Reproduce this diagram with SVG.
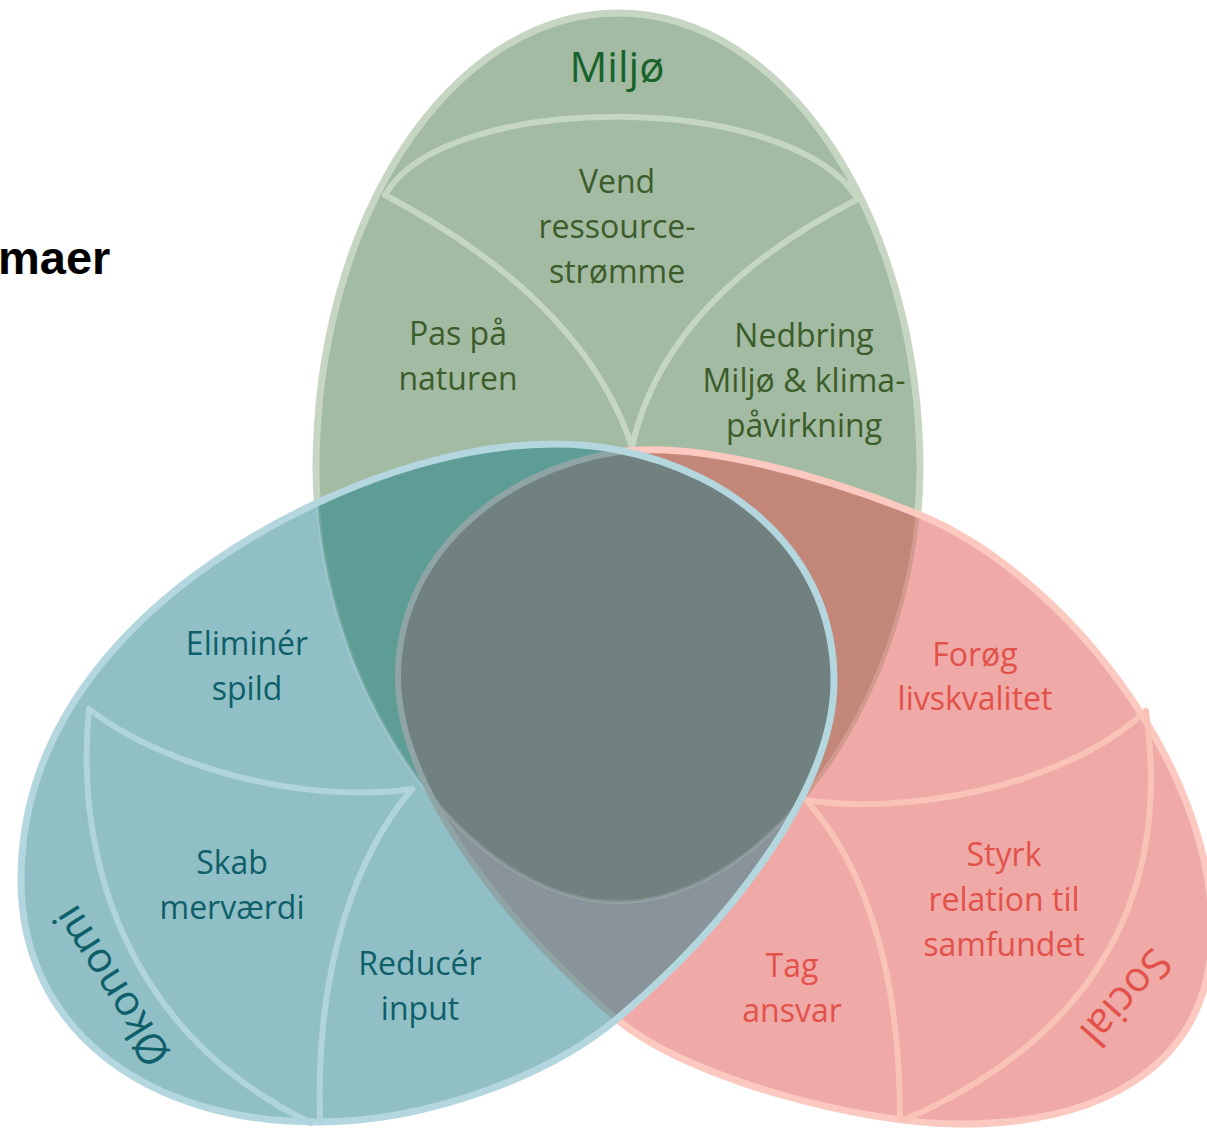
<svg xmlns="http://www.w3.org/2000/svg" width="1207" height="1128" viewBox="0 0 1207 1128">
<style>
.lbl{font-family:'Open Sans','Noto Sans',sans-serif;font-size:32px;text-anchor:middle}
.ttl{font-family:'Open Sans','Noto Sans',sans-serif;font-size:42px;text-anchor:middle}
.g{fill:#3c5d2b}
.b{fill:#0e5f6a}
.r{fill:#e2514a}
.arc{fill:none;stroke-width:6;stroke-linecap:round;stroke-linejoin:round}
</style>
<defs>
<path id="gE" d="M618,13 C451,13 316,218 316,470 C318,690 465,902 618,902 C771,902 918,690 920,470 C920,218 785,13 618,13 Z"/>
<path id="rE" d="M398,677 C398,556 500,470 618,452 C697,440 827,477 920,515 C1059,572 1212,760 1212,930 C1212,1060 1110,1124 960,1124 C860,1124 687,1078 618,1020 C512,930 398,790 398,677 Z"/>
<path id="bE" d="M21,880 C21,690 183,565 319,502 C410,460 520,431 618,450 C736,473 834,556 834,681 C834,791 725,928 618,1018 C549,1076 427,1122 317,1122 C147,1122 21,1030 21,880 Z"/>
<clipPath id="cG"><use href="#gE"/></clipPath>
<clipPath id="cR"><use href="#rE"/></clipPath>
<clipPath id="cB"><use href="#bE"/></clipPath>
</defs>
<rect width="1207" height="1128" fill="#ffffff"/>
<text x="-2" y="274" font-family="'Liberation Sans',Arial,sans-serif" font-weight="bold" font-size="47" fill="#000">maer</text>

<g id="miljo">
<use href="#gE" fill="#a2bba2" stroke="#c6d6c3" stroke-width="7"/>
<g class="arc" stroke="#c5d6c2">
<path d="M385,195 C445,90 790,90 858,199"/>
<path d="M385,195 C470,240 590,320 632,447"/>
<path d="M858,199 C770,244 660,320 632,447"/>
</g>
<text class="ttl" x="617" y="82" fill="#18622c">Miljø</text>
<text class="lbl g" x="617" y="193">Vend</text>
<text class="lbl g" x="617" y="238">ressource-</text>
<text class="lbl g" x="617" y="283">strømme</text>
<text class="lbl g" x="458" y="345">Pas på</text>
<text class="lbl g" x="458" y="390">naturen</text>
<text class="lbl g" x="804" y="347">Nedbring</text>
<text class="lbl g" x="804" y="392">Miljø &amp; klima-</text>
<text class="lbl g" x="804" y="437">påvirkning</text>
</g>

<g id="social">
<use href="#rE" fill="#efa9a6"/>
<use href="#rE" fill="#c3877a" clip-path="url(#cG)"/>
<use href="#gE" fill="none" stroke="#d29a8f" stroke-width="4" clip-path="url(#cR)"/>
<use href="#rE" fill="none" stroke="#fbc9bf" stroke-width="7"/>
<g class="arc" stroke="#f9c3b7">
<path d="M806,800 C900,815 1060,790 1146,711"/>
<path d="M1146,711 C1170,880 1110,1030 904,1120"/>
<path d="M806,800 C860,860 900,960 900,1118"/>
</g>
<text class="lbl r" x="975" y="666">Forøg</text>
<text class="lbl r" x="975" y="710">livskvalitet</text>
<text class="lbl r" x="1004" y="866">Styrk</text>
<text class="lbl r" x="1004" y="911">relation til</text>
<text class="lbl r" x="1004" y="956">samfundet</text>
<text class="lbl r" x="792" y="977">Tag</text>
<text class="lbl r" x="792" y="1022">ansvar</text>
<text class="ttl r" transform="translate(1124,996) rotate(131.6)" x="0" y="12">Social</text>
</g>

<g id="okonomi">
<use href="#bE" fill="#91bfc6"/>
<use href="#bE" fill="#5e9c96" clip-path="url(#cG)"/>
<use href="#bE" fill="#88949a" clip-path="url(#cR)"/>
<g clip-path="url(#cG)"><use href="#bE" fill="#718180" clip-path="url(#cR)"/></g>
<g clip-path="url(#cB)">
<use href="#gE" fill="none" stroke="#ffffff" stroke-opacity="0.12" stroke-width="4"/>
<use href="#rE" fill="none" stroke="#8fa4a5" stroke-width="6"/>
</g>
<use href="#bE" fill="none" stroke="#b3d6df" stroke-width="7"/>
<g class="arc" stroke="#b0d4dd">
<path d="M89,709 C160,765 300,805 412,789"/>
<path d="M89,709 C75,850 120,1030 311,1123"/>
<path d="M412,789 C360,850 315,960 320,1120"/>
</g>
<text class="lbl b" x="247" y="655">Eliminér</text>
<text class="lbl b" x="247" y="700">spild</text>
<text class="lbl b" x="232" y="874">Skab</text>
<text class="lbl b" x="232" y="919">merværdi</text>
<text class="lbl b" x="420" y="975">Reducér</text>
<text class="lbl b" x="420" y="1020">input</text>
<text class="ttl b" transform="translate(114,985) rotate(237.7)" x="0" y="12">Økonomi</text>
</g>
</svg>
